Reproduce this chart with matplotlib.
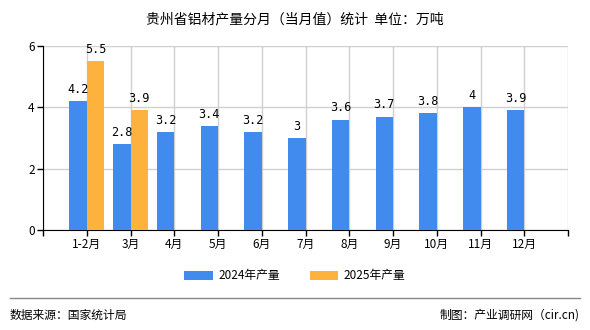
import matplotlib
matplotlib.use("Agg")
import matplotlib.pyplot as plt
import numpy as np

plt.rcParams['font.family'] = ['Noto Sans CJK SC', 'DejaVu Sans']

months = ["1-2月", "3月", "4月", "5月", "6月", "7月", "8月", "9月", "10月", "11月", "12月"]
prod_2024 = [4.2, 2.8, 3.2, 3.4, 3.2, 3.0, 3.6, 3.7, 3.8, 4.0, 3.9]
prod_2025 = [5.5, 3.9]
label_2024 = "2024年产量"
label_2025 = "2025年产量"

blue = "#418BEE"
orange = "#FDB23D"

fig = plt.figure(figsize=(5.9, 3.3), dpi=100)
ax = fig.add_axes([43/590, 1-230/330, (568-43)/590, (230-46)/330])

x = np.arange(len(months))
w = 0.4
b1 = ax.bar(x - w/2, prod_2024, w, color=blue, label=label_2024, zorder=3)
b2 = ax.bar(np.arange(len(prod_2025)) + w/2, prod_2025, w, color=orange, label=label_2025, zorder=3)

def fmt(v):
    return "%g" % v

for bars, vals in ((b1, prod_2024), (b2, prod_2025)):
    for r, v in zip(bars, vals):
        ax.text(r.get_x() + r.get_width()/2, v + 0.17, fmt(v), ha='center', va='bottom',
                fontsize=8.5, family='DejaVu Sans Mono', zorder=4)

ax.set_xlim(-1, len(months))
ax.set_ylim(0, 6)
ax.set_xticks(np.arange(-1, len(months) + 1))
ax.set_xticklabels([""] + months + [""], fontsize=8.5)
ax.set_yticks([0, 2, 4, 6])
ax.set_yticklabels(["0", "2", "4", "6"], fontsize=8.5)
ax.grid(True, color="#d0d0d0", linewidth=1, zorder=0)
ax.set_axisbelow(True)
for s in ("top", "right"):
    ax.spines[s].set_visible(False)
ax.spines["left"].set_color("black")
ax.spines["bottom"].set_color("black")
ax.tick_params(axis='both', length=4, width=1, color="black", pad=2)

fig.text(0.5, 1-19/330, "贵州省铝材产量分月（当月值）统计  单位：万吨", ha='center', va='center', fontsize=10)

fig.legend(handles=[b1, b2], labels=[label_2024, label_2025], loc='center',
           bbox_to_anchor=(0.5, 1-276/330), ncol=2, frameon=False, fontsize=8.5,
           handlelength=2.4, handleheight=0.8, columnspacing=2.5, handletextpad=0.5)

fig.add_artist(plt.Line2D([10/590, 580/590], [1-298/330, 1-298/330], color="#888888", linewidth=1))
fig.text(10/590, 1-315/330, "数据来源：国家统计局", ha='left', va='center', fontsize=8.5)
fig.text(580/590, 1-315/330, "制图：产业调研网（cir.cn)", ha='right', va='center', fontsize=8.5)

fig.savefig("out.png", dpi=100)
